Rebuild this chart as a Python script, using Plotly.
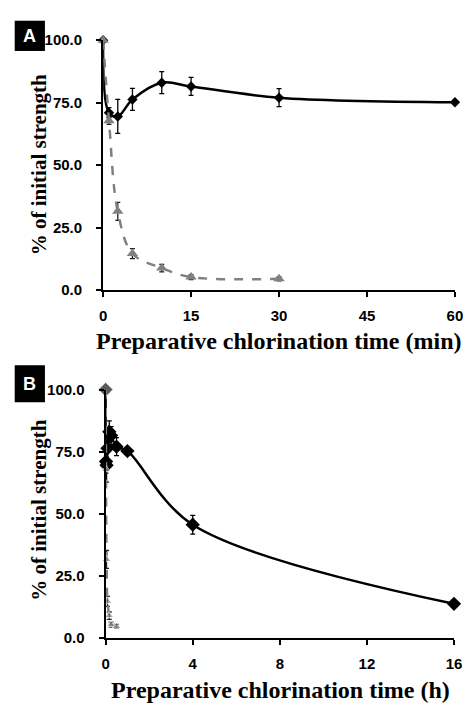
import plotly.graph_objects as go

# Panel A data (minutes)
t_min = [0, 1, 2.5, 5, 10, 15, 30, 60]
black_a = [100, 71.0, 69.5, 76.3, 83.0, 81.5, 77.0, 75.2]
black_a_err = [0, 2.0, 6.8, 4.4, 4.4, 3.6, 3.6, 0.5]
t_min_gray = [0, 1, 2.5, 5, 10, 15, 30]
gray_a = [100, 67.8, 31.5, 14.6, 8.8, 5.2, 4.5]
gray_a_err = [0, 1.5, 3.6, 2.0, 1.5, 1.0, 0.8]

# Panel B data (hours)
t_h = [0, 1/60, 2.5/60, 5/60, 10/60, 15/60, 0.5, 1, 4, 16]
black_b = [100, 71.0, 69.5, 76.3, 83.0, 81.5, 77.0, 75.2, 45.5, 13.6]
black_b_err = [0, 2.0, 6.8, 4.4, 4.4, 3.6, 3.6, 1.5, 3.8, 1.0]
t_h_gray = [0, 1/60, 2.5/60, 5/60, 10/60, 15/60, 0.5]
gray_b = [100, 67.8, 31.5, 14.6, 8.8, 5.2, 4.5]
gray_b_err = [0, 1.5, 3.6, 2.0, 1.5, 1.0, 0.8]

x_ticks_a = [0, 15, 30, 45, 60]
x_ticks_b = [0, 4, 8, 12, 16]
y_ticks = [0, 25, 50, 75, 100]

W, H = 473, 707
fig = go.Figure()

GRAY = "#808080"

fig.add_trace(go.Scatter(x=t_h, y=black_b, mode="lines+markers",
    line=dict(color="black", width=2.5, shape="spline", smoothing=1),
    marker=dict(symbol="diamond", size=11, color="black"),
    error_y=dict(type="data", array=black_b_err, color="black", thickness=1.3, width=2.5),
    cliponaxis=False, xaxis="x2", yaxis="y2"))
fig.add_trace(go.Scatter(x=t_h_gray, y=gray_b, mode="lines+markers",
    line=dict(color=GRAY, width=2.5, dash="dash", shape="spline", smoothing=1),
    marker=dict(symbol=["diamond"] + ["triangle-up"] * (len(gray_b) - 1),
                size=[11] + [8] * (len(gray_b) - 1), color=GRAY),
    error_y=dict(type="data", array=gray_b_err, color="#222", thickness=1.3, width=2.5),
    cliponaxis=False, xaxis="x2", yaxis="y2"))

fig.add_trace(go.Scatter(x=t_min, y=black_a, mode="lines+markers",
    line=dict(color="black", width=2.5, shape="spline", smoothing=1),
    marker=dict(symbol="diamond", size=8, color="black"),
    error_y=dict(type="data", array=black_a_err, color="black", thickness=1.3, width=2.5),
    cliponaxis=False, xaxis="x", yaxis="y"))
fig.add_trace(go.Scatter(x=t_min_gray, y=gray_a, mode="lines+markers",
    line=dict(color=GRAY, width=2.5, dash="dash", shape="spline", smoothing=1),
    marker=dict(symbol="triangle-up", size=10, color=GRAY),
    error_y=dict(type="data", array=gray_a_err, color="#222", thickness=1.3, width=2.5),
    cliponaxis=False, xaxis="x", yaxis="y"))

tickfont = dict(family="Liberation Sans, Arial", size=15, color="black", weight="bold")
axcommon = dict(showline=True, linecolor="black", linewidth=2, ticks="outside",
                ticklen=5, tickwidth=2, tickcolor="black", showgrid=False,
                zeroline=False, tickfont=tickfont)

def px_x(p):
    return p / W

def px_y(p):
    return 1 - p / H

fig.update_layout(
    width=W, height=H, margin=dict(l=0, r=0, t=0, b=0),
    paper_bgcolor="white", plot_bgcolor="white", showlegend=False,
    xaxis=dict(domain=[px_x(101.7), px_x(462.7)], range=[0, 60], tickvals=x_ticks_a,
               anchor="y", ticklabelstandoff=6, **axcommon),
    yaxis=dict(domain=[px_y(288), px_y(32)], range=[0, 100], tickvals=y_ticks,
               tickformat=".1f", anchor="x", ticklabelstandoff=11, **axcommon),
    xaxis2=dict(domain=[px_x(104.3), px_x(461.7)], range=[0, 16], tickvals=x_ticks_b,
                anchor="y2", ticklabelstandoff=6, **axcommon),
    yaxis2=dict(domain=[px_y(644), px_y(390)], range=[0, 100], tickvals=y_ticks,
                tickformat=".1f", anchor="x2", ticklabelstandoff=11, **axcommon),
)

xtitlefont = dict(family="Liberation Serif, Times New Roman", size=24, color="black", weight="bold")
ytitlefont = dict(family="Liberation Serif, Times New Roman", size=21, color="black", weight="bold")
ann = [
    dict(text="Preparative chlorination time (min)", x=px_x(282), y=px_y(340), font=xtitlefont),
    dict(text="Preparative chlorination time (h)", x=px_x(284), y=px_y(698), font=xtitlefont),
    dict(text="% of initial strength", x=px_x(36), y=px_y(160), textangle=-90, font=ytitlefont),
    dict(text="% of initial strength", x=px_x(36), y=px_y(514), textangle=-90, font=ytitlefont),
]
for a in ann:
    fig.add_annotation(xref="paper", yref="paper", showarrow=False,
                       xanchor="center", yanchor="middle", **a)

# Panel labels
for lab, y0, y1 in [("A", 12, 43), ("B", 365, 403)]:
    fig.add_shape(type="rect", xref="paper", yref="paper",
                  x0=px_x(11), x1=px_x(42), y0=px_y(y1), y1=px_y(y0),
                  fillcolor="black", line=dict(width=0))
    fig.add_annotation(xref="paper", yref="paper", showarrow=False,
                       x=px_x(26.5), y=px_y((y0 + y1) / 2), text=lab,
                       xanchor="center", yanchor="middle",
                       font=dict(family="Liberation Sans, Arial", size=18,
                                 color="white", weight="bold"))

fig.write_html("out.html")
